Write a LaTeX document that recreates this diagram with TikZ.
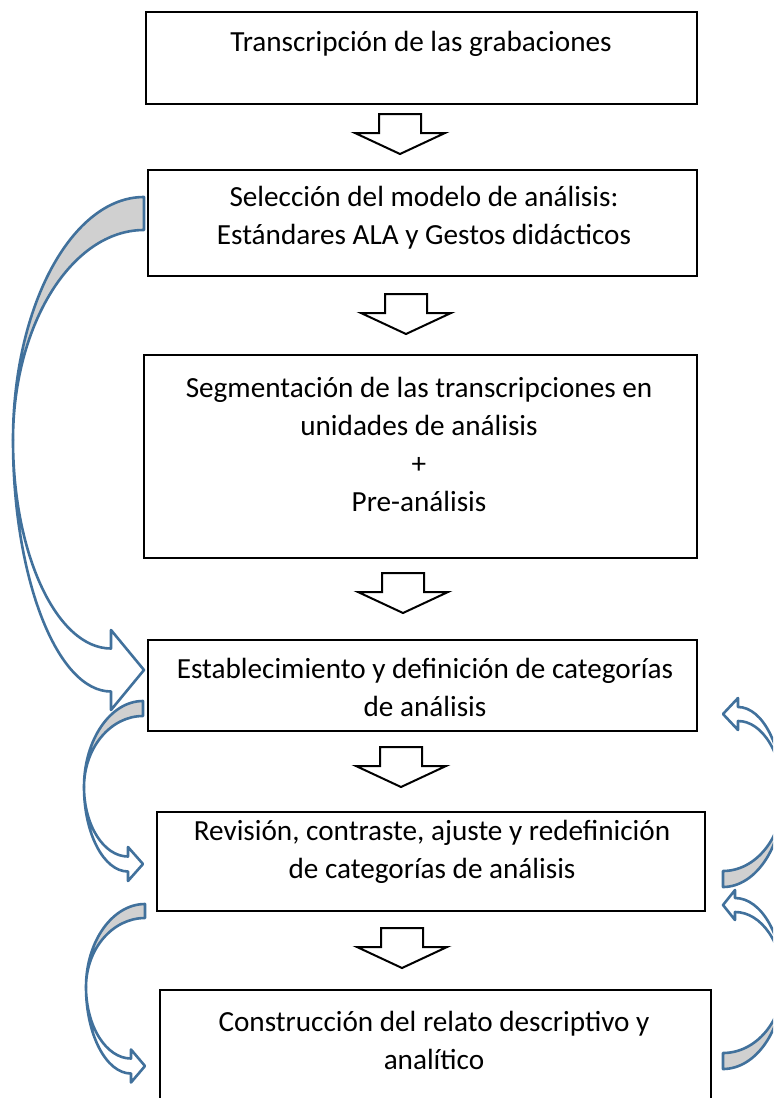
\documentclass[tikz,border=0pt]{standalone}
\usepackage{fontspec}
\setmainfont{Carlito}
\usetikzlibrary{calc}
\definecolor{arrblue}{RGB}{65,113,156}
\definecolor{arrgray}{RGB}{208,208,208}

% curved block arrow: tail x, tail outer y, tail inner y, far x, far y,
% head base x, head y, head half width, shaft half width
\newcommand{\curvarrow}[9]{%
  \pgfmathsetmacro{\cvS}{sign(#3-#2)}
  \pgfmathsetmacro{\cvC}{#1-0.55*(#1-#4)}
  \pgfmathsetmacro{\cvH}{#6-0.55*(#6-#4)}
  \pgfmathsetmacro{\cvO}{#7+\cvS*#9}
  \pgfmathsetmacro{\cvI}{#7-\cvS*#9}
  \pgfmathsetmacro{\cvA}{#7+\cvS*#8}
  \pgfmathsetmacro{\cvB}{#7-\cvS*#8}
  \draw[curv, fill=arrgray] (#1,#2) .. controls (\cvC,#2) and (#4,{#5-0.55*(#5-#2)}) .. (#4,#5)
    .. controls (#4,{#5-0.55*(#5-#3)}) and (\cvC,#3) .. (#1,#3) -- cycle;
  \draw[curv, fill=white] (#4,#5) .. controls (#4,{#5+0.55*(\cvO-#5)}) and (\cvH,\cvO) .. (#6,\cvO)
    -- (#6,\cvA) -- (#1,#7) -- (#6,\cvB) -- (#6,\cvI)
    .. controls (\cvH,\cvI) and (#4,{#5+0.55*(\cvI-#5)}) .. (#4,#5) -- cycle;
}

\tikzset{
  stepbox/.style={draw, line width=1pt, inner sep=0pt},
  boxtext/.style={align=center, inner sep=0pt, font=\fontsize{14.6pt}{19pt}\selectfont},
  curv/.style={draw=arrblue, line width=1.3pt, line join=round},
  blkarrow/.pic={\draw[line width=1pt, fill=white, line join=miter]
    (-21,0) -- (21,0) -- (21,19) -- (45,19) -- (0,40) -- (-45,19) -- (-21,19) -- cycle;}
}

\begin{document}
\begin{tikzpicture}[x=0.5pt, y=-0.5pt]
  \useasboundingbox (0,0) rectangle (773,1098);
  \clip (0,0) rectangle (773,1098);

  % boxes
  \node[stepbox, minimum width=275.5pt, minimum height=46pt]   (trans)  at (421.5,58)   {};
  \node[stepbox, minimum width=274.5pt, minimum height=53pt]   (selec)  at (422.5,223)  {};
  \node[stepbox, minimum width=276.5pt, minimum height=101.5pt] (segm)  at (420.5,456.5) {};
  \node[stepbox, minimum width=274.5pt, minimum height=45.5pt] (estab)  at (422.5,685.5) {};
  \node[stepbox, minimum width=274pt,   minimum height=49.5pt] (revis)  at (431,861.5)  {};
  \node[stepbox, minimum width=275.5pt, minimum height=60pt]   (constr) at (435.5,1050) {};

  % texts
  \node[boxtext] (trans-t)  at (421,44)  {Transcripción de las grabaciones};
  \node[boxtext] (selec-t)  at (424,218) {Selección del modelo de análisis:\\Estándares ALA y Gestos didácticos};
  \node[boxtext] (segm-t)   at (419,444) {Segmentación de las transcripciones en\\unidades de análisis\\+\\Pre-análisis};
  \node[boxtext] (estab-t)  at (425,687) {Establecimiento y definición de categorías\\de análisis};
  \node[boxtext] (revis-t)  at (432,852) {Revisión, contraste, ajuste y redefinición\\de categorías de análisis};
  \node[boxtext] (constr-t) at (434,1040) {Construcción del relato descriptivo y\\analítico};

  % down arrows
  \pic (dn1) at (400,114) {blkarrow};
  \pic (dn2) at (406,294) {blkarrow};
  \pic (dn3) at (403,573) {blkarrow};
  \pic (dn4) at (401,747) {blkarrow};
  \pic (dn5) at (402,928) {blkarrow};

  % curved arrows
  \curvarrow{144}{197}{230}{13}{440}{111}{670}{40}{21.5}
  \curvarrow{143}{701}{716}{84}{787}{128}{864}{17}{7.5}
  \curvarrow{145}{904}{918}{86}{987}{131}{1066}{16.5}{7.5}
  \curvarrow{723}{887}{871}{783}{796}{738}{714}{16}{7}
  \curvarrow{723}{1069}{1053}{783}{982}{735}{905}{15}{7}
\end{tikzpicture}
\end{document}
